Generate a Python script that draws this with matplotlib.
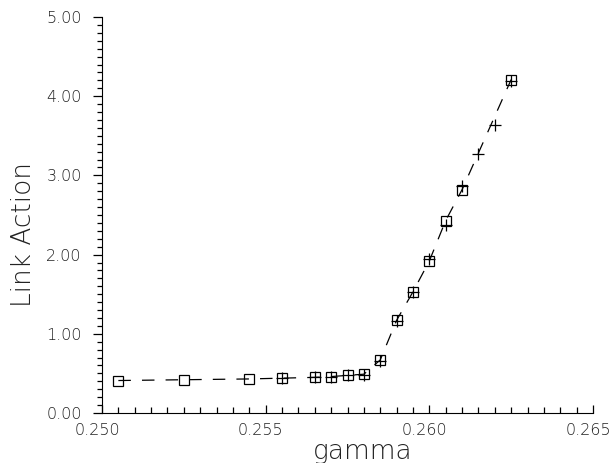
import matplotlib
matplotlib.use("Agg")
import matplotlib.pyplot as plt
from matplotlib.ticker import MultipleLocator, FormatStrFormatter
from matplotlib.transforms import ScaledTranslation

plt.rcParams['font.family'] = ['DejaVu Sans']
plt.rcParams['lines.scale_dashes'] = False

# Dados
gamma_sq = [0.2505, 0.2525, 0.2545, 0.2555, 0.2565, 0.2570, 0.2575, 0.2580,
            0.2585, 0.2590, 0.2595, 0.2600, 0.2605, 0.2610, 0.2625]
action_sq = [0.41, 0.42, 0.43, 0.44, 0.45, 0.46, 0.475, 0.49,
             0.67, 1.17, 1.53, 1.92, 2.43, 2.82, 4.21]

gamma_pl = [0.2555, 0.2565, 0.2570, 0.2575, 0.2580, 0.2585, 0.2590, 0.2595,
            0.2600, 0.2605, 0.2610, 0.2615, 0.2620, 0.2625]
action_pl = [0.44, 0.45, 0.46, 0.475, 0.48, 0.66, 1.16, 1.53,
             1.95, 2.37, 2.86, 3.27, 3.64, 4.19]

fig = plt.figure(figsize=(6.16, 4.63), dpi=100)
ax = fig.add_axes([102/616, 1 - 413/463, 491/616, 396/463])

ax.plot(gamma_sq, action_sq, color="black", lw=0.9, dashes=(9, 8))
ax.plot(gamma_sq, action_sq, ls="none", marker="s", ms=7.5, mfc="none",
        mec="black", mew=0.9)
ax.plot(gamma_pl, action_pl, ls="none", marker="+", ms=9, color="black", mew=0.9)

ax.set_xlim(0.250, 0.265)
ax.set_ylim(0.0, 5.0)

ax.spines['top'].set_visible(False)
ax.spines['right'].set_visible(False)

ax.xaxis.set_major_locator(MultipleLocator(0.005))
ax.xaxis.set_minor_locator(MultipleLocator(0.0005))
ax.yaxis.set_major_locator(MultipleLocator(1.0))
ax.yaxis.set_minor_locator(MultipleLocator(0.1))
ax.xaxis.set_major_formatter(FormatStrFormatter('%.3f'))
ax.yaxis.set_major_formatter(FormatStrFormatter('%.2f'))

ax.tick_params(axis='x', which='major', direction='in', length=6, width=0.9,
               labelsize=11.5, pad=7)
ax.tick_params(axis='x', which='minor', direction='in', length=4, width=0.9)
ax.tick_params(axis='y', which='major', direction='out', length=6.5, width=0.9,
               labelsize=11.5, pad=8)
ax.tick_params(axis='y', which='minor', direction='out', length=3.5, width=0.9)

# desloca um pouco os rotulos do eixo x para a esquerda
shift = ScaledTranslation(-5/100, 0, fig.dpi_scale_trans)
for lab in ax.get_xticklabels():
    lab.set_transform(lab.get_transform() + shift)

for lab in ax.get_xticklabels() + ax.get_yticklabels():
    lab.set_fontweight('light')
    lab.set_color('#222222')

ax.set_xlabel("gamma", fontsize=19, fontweight='light', color='#222222')
ax.set_ylabel("Link Action", fontsize=19, fontweight='light', color='#222222')
ax.xaxis.set_label_coords(0.53, -0.065)
ax.yaxis.set_label_coords(-0.135, 0.45)

fig.savefig("out.png", dpi=100)
